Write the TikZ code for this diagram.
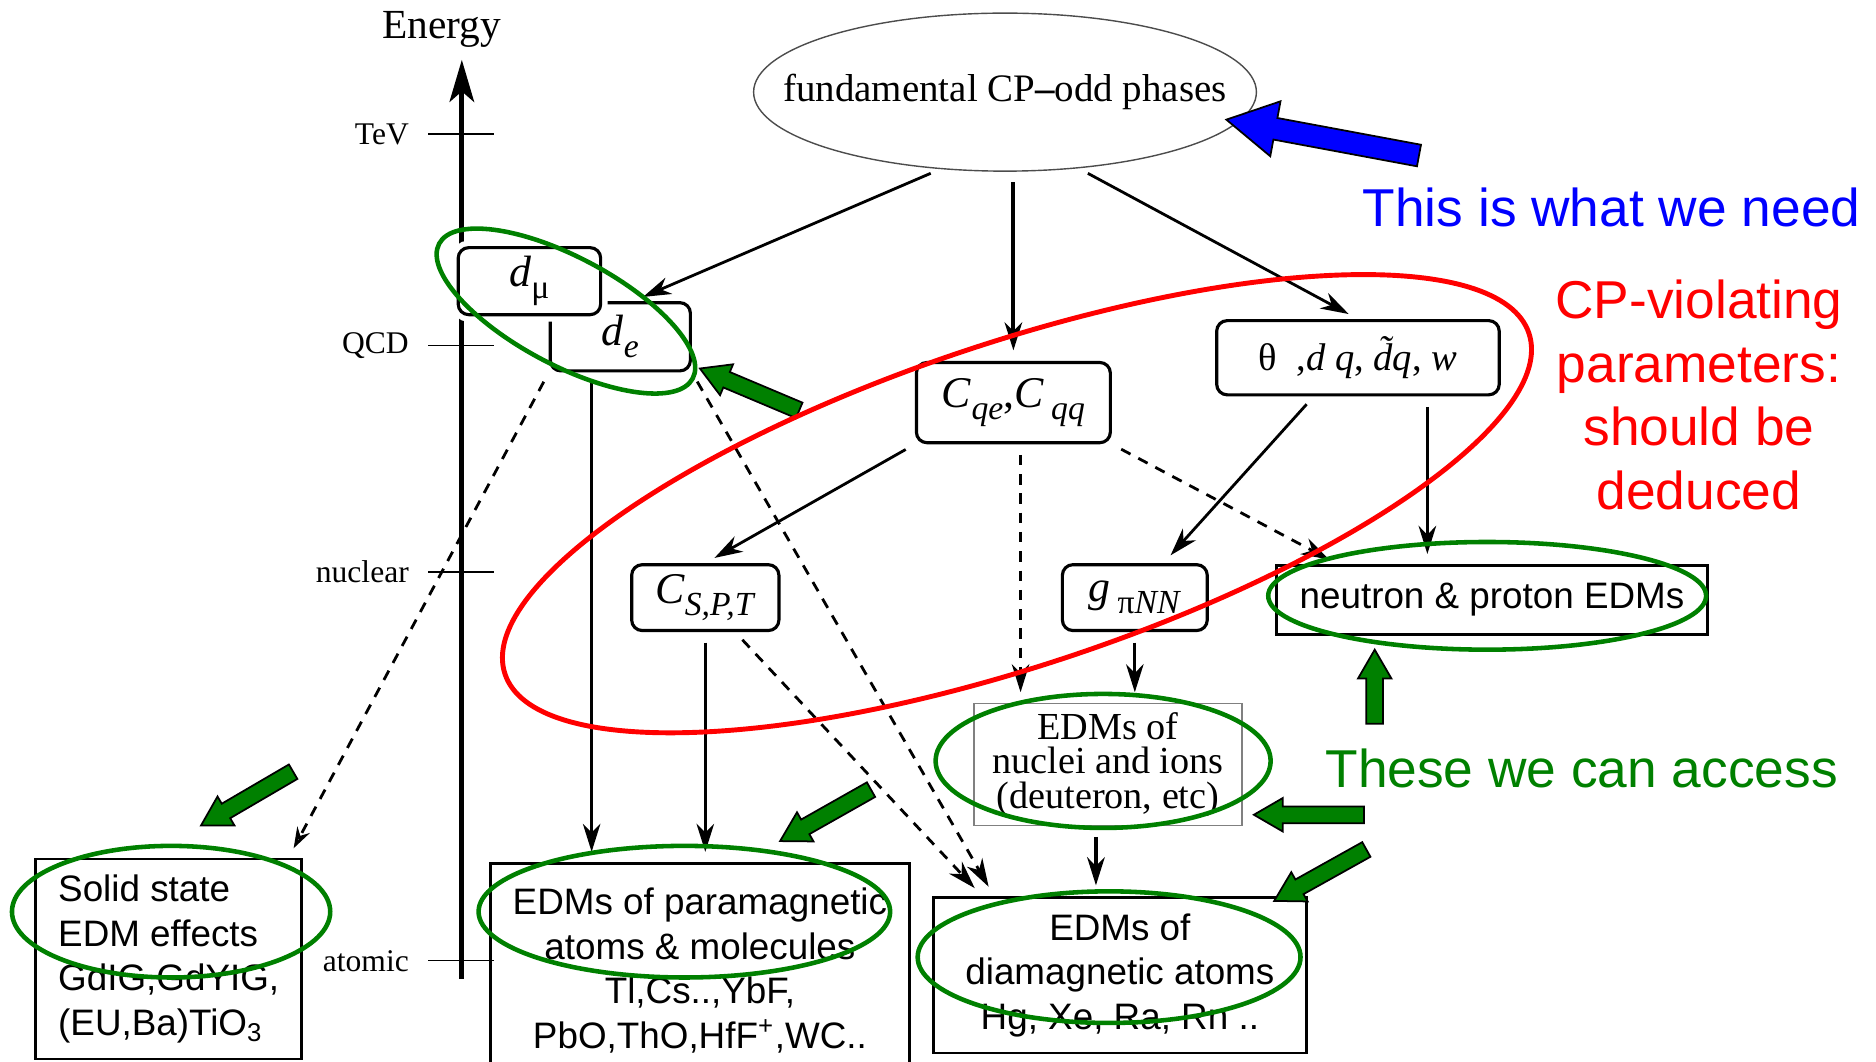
\documentclass[tikz,border=0pt]{standalone}
\usepackage{fontspec}
\setmainfont{Liberation Serif}
\setsansfont{Liberation Sans}
\usetikzlibrary{shapes.geometric, arrows.meta, calc, positioning}

\definecolor{edmgreen}{RGB}{0,128,0}

\tikzset{
  param/.style={draw, rounded corners=3pt, line width=0.9pt, fill=white, inner sep=0pt,
    font=\fontsize{12.5}{13}\selectfont},
  edmbox/.style={draw, line width=0.8pt, inner sep=0pt, align=center,
    font=\sffamily\fontsize{10.5}{12.7}\selectfont},
  link/.style={line width=0.8pt, -{Stealth[length=8pt,width=5pt,inset=2.5pt]},
    shorten >=3pt, shorten <=3pt},
  dlink/.style={link, dash pattern=on 3pt off 2.5pt},
  levellab/.style={font=\fontsize{9}{9}\selectfont, anchor=east},
  accring/.style={draw=edmgreen, line width=1.3pt},
  note/.style={font=\sffamily\fontsize{15.2}{18.1}\selectfont, align=center},
}

\newcommand{\lowsub}[1]{\raisebox{-0.6ex}{\fontsize{9.6}{10}\selectfont #1}}

% block arrow: colour, tail, tip, half shaft, half head, head length
\newcommand{\fatarrow}[6]{%
  \coordinate (fa-t) at #2;
  \coordinate (fa-h) at #3;
  \coordinate (fa-n) at ($(fa-h)!#6!(fa-t)$);
  \filldraw[fill=#1, draw=black, line width=0.5pt]
    ($(fa-t)!#4!90:(fa-h)$) -- ($(fa-n)!#4!90:(fa-h)$) -- ($(fa-n)!#5!90:(fa-h)$) -- (fa-h)
    -- ($(fa-n)!#5!-90:(fa-h)$) -- ($(fa-n)!#4!-90:(fa-h)$) -- ($(fa-t)!#4!-90:(fa-h)$) -- cycle;
}

\begin{document}
\begin{tikzpicture}[x=0.012cm, y=-0.012cm]
\useasboundingbox (0,0) rectangle (1568,887);

% energy axis
\coordinate (axbot) at (386,818);
\coordinate (axtop) at (386,50);
\draw[line width=1.4pt, -{Stealth[length=12pt,width=7pt,inset=3pt]}] (axbot) -- (axtop);
\node[font=\fontsize{11.8}{12}\selectfont, anchor=base] (energy) at (369,32) {Energy};
\foreach \y/\lab in {112/TeV, 289/QCD, 478/nuclear, 803/atomic} {
  \draw[line width=0.4pt] (358,\y) -- (413,\y);
  \node[levellab] (\lab) at (352,\y) {\lab};
}

% top
\node[ellipse, draw=black!70, line width=0.4pt, inner xsep=-0.45cm, inner ysep=0.33cm,
  minimum width=5.04cm, minimum height=1.584cm,
  font=\fontsize{11.1}{12}\selectfont] (fund) at (840,77) {fundamental CP\textbf{--}odd phases};

% parameters
\node[param, minimum width=1.404cm, minimum height=0.684cm] (de) at (518.5,281.5) {\textit{d}\lowsub{\textit{e}}};
\node[param, preaction={draw=white, line width=4pt}, minimum width=1.428cm, minimum height=0.672cm]
  (dmu) at (442.5,235) {\textit{d}\lowsub{μ}};
\node[param, minimum width=1.944cm, minimum height=0.804cm] (cqe) at (847,336.5)
  {\textit{C}\lowsub{\textit{qe}},\textit{C}\,\lowsub{\textit{qq}}};
\node[param, minimum width=2.832cm, minimum height=0.744cm, font=\fontsize{11}{12}\selectfont]
  (theta) at (1135,299) {θ\enspace ,\textit{d q}, \textit{\~{d}q}, \textit{w}};
\node[param, minimum width=1.476cm, minimum height=0.66cm] (cspt) at (589.5,499.5)
  {\textit{C}\lowsub{\textit{S,P,T}}};
\node[param, minimum width=1.452cm, minimum height=0.66cm] (gpi) at (948.5,499.5)
  {\textit{g}\,\lowsub{π\textit{NN}}};

% observables
\node[edmbox, minimum width=4.32cm, minimum height=0.684cm] (nucleon) at (1247,501.5)
  {neutron \& proton EDMs};
\node[draw=gray, line width=0.4pt, inner sep=0pt, minimum width=2.688cm, minimum height=1.224cm,
  align=center, font=\fontsize{10.9}{9.8}\selectfont] (nuclei) at (926,639)
  {EDMs of\\nuclei and ions\\(deuteron, etc)};
\node[edmbox, minimum width=4.2cm, minimum height=2.136cm] (para) at (585,811)
  {EDMs of paramagnetic\\atoms \& molecules\\Tl,Cs..,YbF,\\PbO,ThO,HfF\textsuperscript{+},WC..};
\node[edmbox, align=left, minimum width=2.664cm, minimum height=2.004cm] (solid) at (141,801.5)
  {Solid state\\EDM effects\\GdIG,GdYIG,\\(EU,Ba)TiO\textsubscript{3}};
\node[edmbox, minimum width=3.744cm, minimum height=1.56cm] (dia) at (936,815)
  {EDMs of\\diamagnetic atoms\\Hg, Xe, Ra, Rn ..};

% connections
\draw[link] (fund.230) -- (de.70);
\draw[link, line width=1.1pt] (fund.south -| cqe.north) -- (cqe.north);
\draw[link] (fund.314) -- (theta.north);
\coordinate (deL) at ($(de.south)+(-24,0)$);
\draw[link] (deL) -- (deL |- para.north);
\draw[dlink, -{Stealth[open,length=6pt,width=4pt]}] (de.south west) -- ($(solid.north east)+(-12,0)$);
\draw[dlink] (de.south east) -- ($(dia.north west)+(52,0)$);
\draw[link] (cqe.south west) -- (cspt.north);
\coordinate (cqeS) at ($(cqe.south)+(6,0)$);
\draw[dlink] (cqeS) -- (cqeS |- nuclei.north);
\draw[dlink] (cqe.south east) -- ($(nucleon.north west)+(53,0)$);
\draw[link] ($(theta.south)+(-37,0)$) -- ($(gpi.north)+(24,0)$);
\coordinate (thR) at ($(theta.south)+(58,0)$);
\draw[link] (thR) -- (thR |- nucleon.north);
\draw[link] (cspt.south) -- (cspt.south |- para.north);
\draw[dlink] ($(cspt.south)+(25,0)$) -- ($(dia.north west)+(42,0)$);
\draw[link] (gpi.south) -- (gpi.south |- nuclei.north);
\coordinate (nuS) at ($(nuclei.south)+(-10,0)$);
\draw[link, line width=1.1pt] (nuS) -- (nuS |- dia.north);

% pointers
\fatarrow{edmgreen}{(668,343)}{(585,308)}{0.084cm}{0.168cm}{0.29cm}
\fatarrow{edmgreen}{(245,645)}{(168,690)}{0.084cm}{0.168cm}{0.29cm}
\fatarrow{edmgreen}{(728,660)}{(652,703)}{0.084cm}{0.168cm}{0.29cm}
\fatarrow{edmgreen}{(1140,681)}{(1048,681)}{0.084cm}{0.168cm}{0.29cm}
\fatarrow{edmgreen}{(1142,710)}{(1065,753)}{0.084cm}{0.168cm}{0.29cm}
\fatarrow{edmgreen}{(1149,605)}{(1149,543)}{0.084cm}{0.168cm}{0.29cm}
\fatarrow{blue}{(1186,130)}{(1025,100)}{0.11cm}{0.28cm}{0.5cm}

% rings
\draw[accring, rotate around={-28:(473,260)}] (473,260) ellipse [x radius=120, y radius=45];
\draw[accring] (1243,498) ellipse [x radius=183, y radius=45];
\draw[accring] (922,636) ellipse [x radius=140, y radius=56];
\draw[accring] (572,762) ellipse [x radius=172, y radius=55];
\draw[accring] (927,800) ellipse [x radius=160, y radius=55];
\draw[accring] (143,762) ellipse [x radius=133, y radius=55];
\draw[red, line width=1.4pt, rotate around={18.4:(850,421)}] (850,421) ellipse [x radius=451, y radius=135];

% remarks
\node[note, text=blue] (need) at (1347,173) {This is what we need};
\node[note, text=red] (cpv) at (1420,330) {CP-violating\\parameters:\\should be\\deduced};
\node[note, text=edmgreen] (access) at (1322,642) {These we can access};
\end{tikzpicture}
\end{document}
